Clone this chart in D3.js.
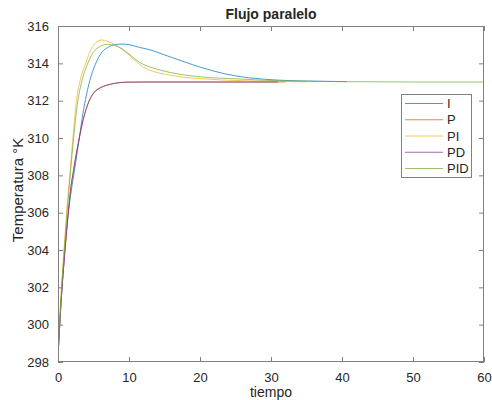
<!DOCTYPE html>
<html>
<head>
<meta charset="utf-8">
<script src="https://cdn.jsdelivr.net/npm/d3@7/dist/d3.min.js"></script>
<style>
body{margin:0;background:#fff;}
svg{display:block;}
text{font-family:"Liberation Sans",Arial,Helvetica,sans-serif;fill:#262626;}
</style>
</head>
<body>
<svg id="chart" width="492" height="400"></svg>
<script>
// ---- data ----
const seriesNames = ["I", "P", "PI", "PD", "PID"];
const seriesColors = ["#0072BD", "#D95319", "#EDB120", "#7E2F8E", "#77AC30"];

const tI = [0,0.4,0.9,1.4,2.0,2.5,3.0,3.5,4.0,4.5,5.0,5.5,6.0,7,8,9,10,11.5,13,14.5,16,17.5,19,20.5,22,23.5,25,27,29,31,34,37,40.7];
const vI = [298.3,301.0,303.7,305.8,307.5,308.7,310.0,311.3,312.3,313.1,313.7,314.15,314.5,314.85,315.0,315.03,315.0,314.85,314.72,314.52,314.32,314.12,313.92,313.74,313.58,313.44,313.33,313.22,313.15,313.1,313.06,313.04,313.02];

const tP = [0,0.4,0.9,1.4,1.83,2.16,2.6,3.0,3.5,4.4,5.0,6.0,6.8,8,9.6,12,20,32];
const vP = [298.3,301.0,303.6,305.8,307.4,308.2,309.2,310.0,310.9,312.0,312.4,312.7,312.82,312.93,312.99,313.0,313.0,313.0];

const tPI = [0,0.4,0.9,1.3,1.7,2.1,2.6,3.2,3.9,4.6,5.3,6.1,7,8,9,10,11,12,13,14.4,16,17.2,20,23,26,30,35];
const vPI = [298.3,301.4,304.3,306.4,308.2,310.0,312.0,313.2,314.0,314.7,315.1,315.25,315.18,315.0,314.75,314.45,314.1,313.8,313.62,313.47,313.35,313.28,313.18,313.11,313.07,313.03,313.01];

const tPD = [0,0.4,0.9,1.4,1.83,2.16,2.6,3.0,3.5,4.4,5.0,6.0,6.8,8,9.6,12,20,31];
const vPD = [298.3,301.0,303.6,305.8,307.4,308.2,309.2,310.0,310.9,312.0,312.4,312.7,312.82,312.93,312.99,313.0,313.0,313.0];

const tPID = [0,0.4,0.9,1.3,1.7,2.1,2.8,3.4,4.2,5.0,6.0,7.0,8.0,8.7,10,11.5,13,14.4,17.2,20,25.6,30,35,40,50,60];
const vPID = [298.3,301.3,304.1,306.1,307.9,309.6,312.0,313.1,314.0,314.6,314.92,315.02,314.95,314.85,314.5,314.05,313.8,313.64,313.41,313.28,313.16,313.08,313.04,313.02,313.0,313.0];

const xTicks = [0,10,20,30,40,50,60];
const yTicks = [298,300,302,304,306,308,310,312,314,316];

const titleText = "Flujo paralelo";
const xLabel = "tiempo";
const yLabel = "Temperatura °K";

// ---- layout ----
const svg = d3.select("#chart");
const L = 58, R = 484, T = 26, B = 362;
const x = d3.scaleLinear().domain([0,60]).range([L,R]);
const y = d3.scaleLinear().domain([298,316]).range([B,T]);
const axisColor = "#808080";
const textColor = "#303030";

const series = [
  {t:tI, v:vI}, {t:tP, v:vP}, {t:tPI, v:vPI}, {t:tPD, v:vPD}, {t:tPID, v:vPID}
];

// clip
svg.append("clipPath").attr("id","clip").append("rect")
  .attr("x",L).attr("y",T).attr("width",R-L).attr("height",B-T);

const line = d3.line().x(d=>x(d[0])).y(d=>y(d[1])).curve(d3.curveMonotoneX);
const g = svg.append("g").attr("clip-path","url(#clip)");
series.forEach((s,i)=>{
  g.append("path")
    .attr("d", line(s.t.map((tt,j)=>[tt,s.v[j]])))
    .attr("fill","none")
    .attr("stroke",seriesColors[i])
    .attr("stroke-opacity",0.8)
    .attr("stroke-width",0.9);
});

// axes (ticks inward, box)
function styleAxis(sel){
  sel.select(".domain").remove();
  sel.selectAll(".tick line").attr("stroke",axisColor);
  sel.selectAll(".tick text").attr("font-size","13px").attr("fill",textColor)
    .style("font-family",'"Liberation Sans",Arial,Helvetica,sans-serif');
}
const tl = 5;
svg.append("g").attr("transform",`translate(0,${B})`)
  .call(d3.axisBottom(x).tickValues(xTicks).tickSizeInner(-tl).tickSizeOuter(0).tickPadding(11).tickFormat(d3.format("d")))
  .call(styleAxis);
svg.append("g").attr("transform",`translate(0,${T})`)
  .call(d3.axisTop(x).tickValues(xTicks).tickSizeInner(-tl).tickSizeOuter(0).tickFormat(""))
  .call(styleAxis);
svg.append("g").attr("transform",`translate(${L},0)`)
  .call(d3.axisLeft(y).tickValues(yTicks).tickSizeInner(-tl).tickSizeOuter(0).tickPadding(9).tickFormat(d3.format("d")))
  .call(styleAxis);
svg.append("g").attr("transform",`translate(${R},0)`)
  .call(d3.axisRight(y).tickValues(yTicks).tickSizeInner(-tl).tickSizeOuter(0).tickFormat(""))
  .call(styleAxis);

svg.append("rect").attr("x",L+0.5).attr("y",T+0.5).attr("width",R-L-1).attr("height",B-T-1)
  .attr("fill","none").attr("stroke",axisColor).attr("stroke-width",1);

// title and labels
svg.append("text").attr("x",(L+R)/2).attr("y",19).attr("text-anchor","middle")
  .attr("font-size","14px").attr("font-weight","bold").attr("fill","#000").text(titleText);
svg.append("text").attr("x",(L+R)/2).attr("y",397).attr("text-anchor","middle")
  .attr("font-size","14px").attr("fill",textColor).text(xLabel);
svg.append("text").attr("transform",`translate(23,190) rotate(-90)`).attr("text-anchor","middle")
  .attr("font-size","15px").attr("fill",textColor).text(yLabel);

// legend
const lg = svg.append("g");
const lx = 401.5, ly = 94.5, lw = 70, lh = 83;
lg.append("rect").attr("x",lx).attr("y",ly).attr("width",lw).attr("height",lh)
  .attr("fill","#fff").attr("stroke",axisColor).attr("stroke-width",1);
seriesNames.forEach((n,i)=>{
  const yy = 103.5 + i*16.25;
  lg.append("line").attr("x1",405).attr("x2",443).attr("y1",yy).attr("y2",yy)
    .attr("stroke",seriesColors[i]).attr("stroke-opacity",0.8).attr("stroke-width",0.9);
  lg.append("text").attr("x",447).attr("y",yy+4.5).attr("font-size","13px").attr("fill",textColor).text(n);
});
</script>
</body>
</html>
